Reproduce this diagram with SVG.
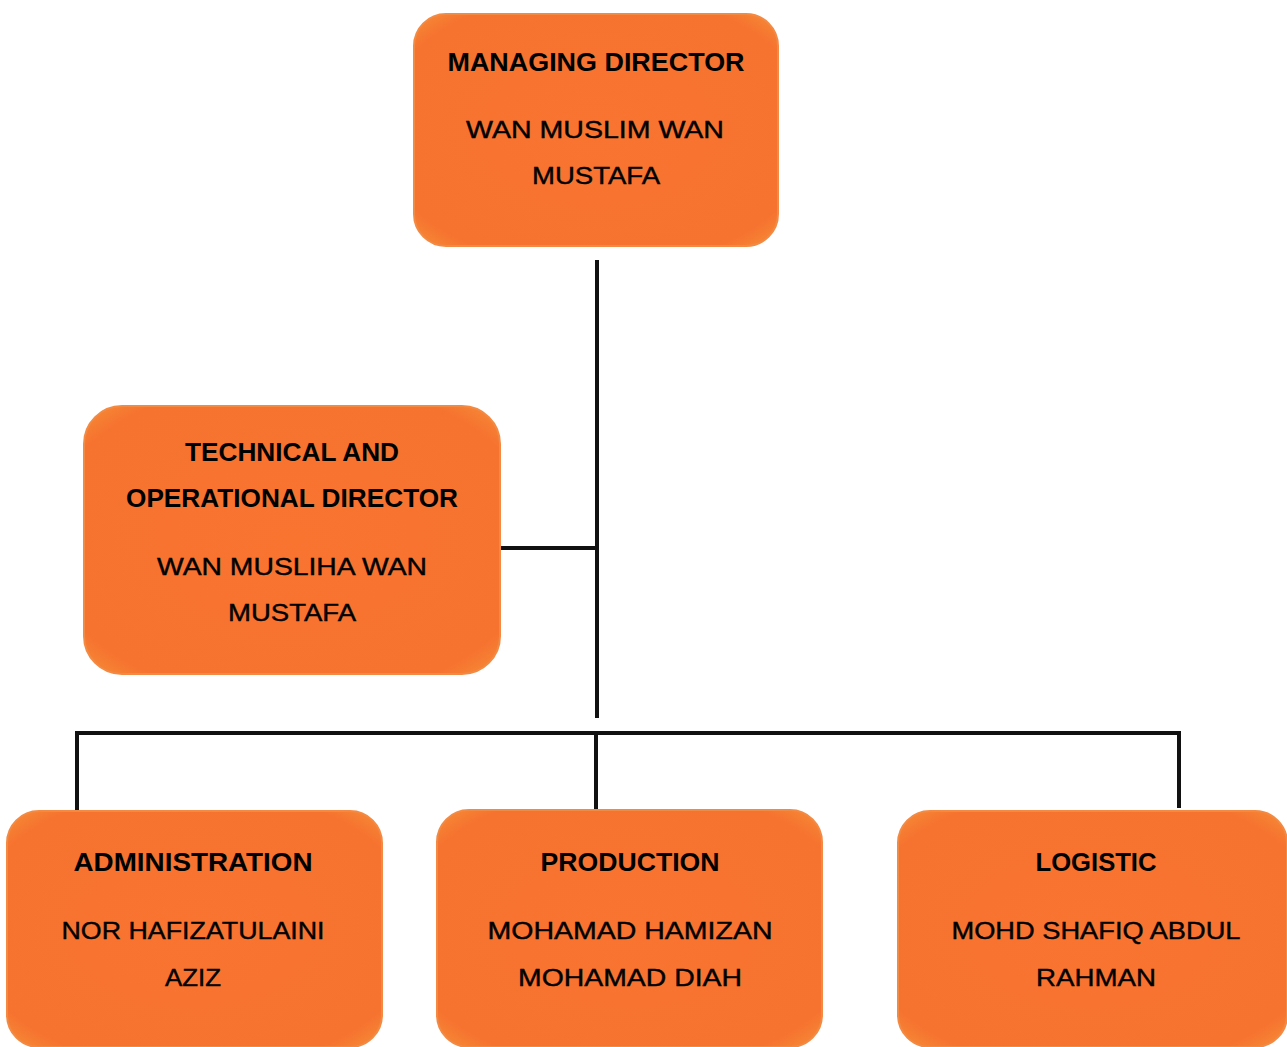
<svg xmlns="http://www.w3.org/2000/svg" width="1287" height="1047" viewBox="0 0 1287 1047">
  <style>
    .box { fill: url(#boxFill); stroke: #f38a44; stroke-width: 2; }
    .title { font-family: "Liberation Sans", Arial, sans-serif; font-weight: bold; font-size: 26px; fill: #000; text-anchor: middle; }
    .name { font-family: "Liberation Sans", Arial, sans-serif; font-size: 24px; fill: #000; stroke: #000; stroke-width: 0.4; text-anchor: middle; }
    .link { stroke: #111; stroke-width: 4; fill: none; stroke-linecap: square; }
  </style>
  <defs>
    <radialGradient id="boxFill" cx="50%" cy="50%" r="75%">
      <stop offset="0" stop-color="#f8742f"/>
      <stop offset="0.8" stop-color="#f6722f"/>
      <stop offset="1" stop-color="#f59a3a"/>
    </radialGradient>
  </defs>
  <rect width="1287" height="1047" fill="#ffffff"/>

  <g id="connectors">
    <path class="link" d="M597 262 V716"/>
    <path class="link" d="M500 548 H597"/>
    <path class="link" d="M77 733 H1179"/>
    <path class="link" d="M77 733 V808"/>
    <path class="link" d="M596 733 V808"/>
    <path class="link" d="M1179 733 V806"/>
  </g>

  <g id="managing-director">
    <rect class="box" x="414" y="14" width="364" height="232" rx="32"/>
    <text class="title" x="596" y="71" textLength="297" lengthAdjust="spacingAndGlyphs">MANAGING DIRECTOR</text>
    <text class="name" x="595" y="138" textLength="258" lengthAdjust="spacingAndGlyphs">WAN MUSLIM WAN</text>
    <text class="name" x="596" y="184" textLength="128" lengthAdjust="spacingAndGlyphs">MUSTAFA</text>
  </g>

  <g id="technical-operational-director">
    <rect class="box" x="84" y="406" width="416" height="268" rx="38"/>
    <text class="title" x="292" y="461" textLength="214" lengthAdjust="spacingAndGlyphs">TECHNICAL AND</text>
    <text class="title" x="292" y="507" textLength="332" lengthAdjust="spacingAndGlyphs">OPERATIONAL DIRECTOR</text>
    <text class="name" x="292" y="575" textLength="270" lengthAdjust="spacingAndGlyphs">WAN MUSLIHA WAN</text>
    <text class="name" x="292" y="621" textLength="128" lengthAdjust="spacingAndGlyphs">MUSTAFA</text>
  </g>

  <g id="administration">
    <rect class="box" x="7" y="811" width="375" height="236" rx="32"/>
    <text class="title" x="193" y="871" textLength="239" lengthAdjust="spacingAndGlyphs">ADMINISTRATION</text>
    <text class="name" x="193" y="939" textLength="263" lengthAdjust="spacingAndGlyphs">NOR HAFIZATULAINI</text>
    <text class="name" x="193" y="986" textLength="56" lengthAdjust="spacingAndGlyphs">AZIZ</text>
  </g>

  <g id="production">
    <rect class="box" x="437" y="810" width="385" height="237" rx="32"/>
    <text class="title" x="630" y="871" textLength="179" lengthAdjust="spacingAndGlyphs">PRODUCTION</text>
    <text class="name" x="630" y="939" textLength="285" lengthAdjust="spacingAndGlyphs">MOHAMAD HAMIZAN</text>
    <text class="name" x="630" y="986" textLength="224" lengthAdjust="spacingAndGlyphs">MOHAMAD DIAH</text>
  </g>

  <g id="logistic">
    <rect class="box" x="898" y="811" width="389" height="236" rx="32"/>
    <text class="title" x="1096" y="871" textLength="121" lengthAdjust="spacingAndGlyphs">LOGISTIC</text>
    <text class="name" x="1096" y="939" textLength="289" lengthAdjust="spacingAndGlyphs">MOHD SHAFIQ ABDUL</text>
    <text class="name" x="1096" y="986" textLength="120" lengthAdjust="spacingAndGlyphs">RAHMAN</text>
  </g>
</svg>
